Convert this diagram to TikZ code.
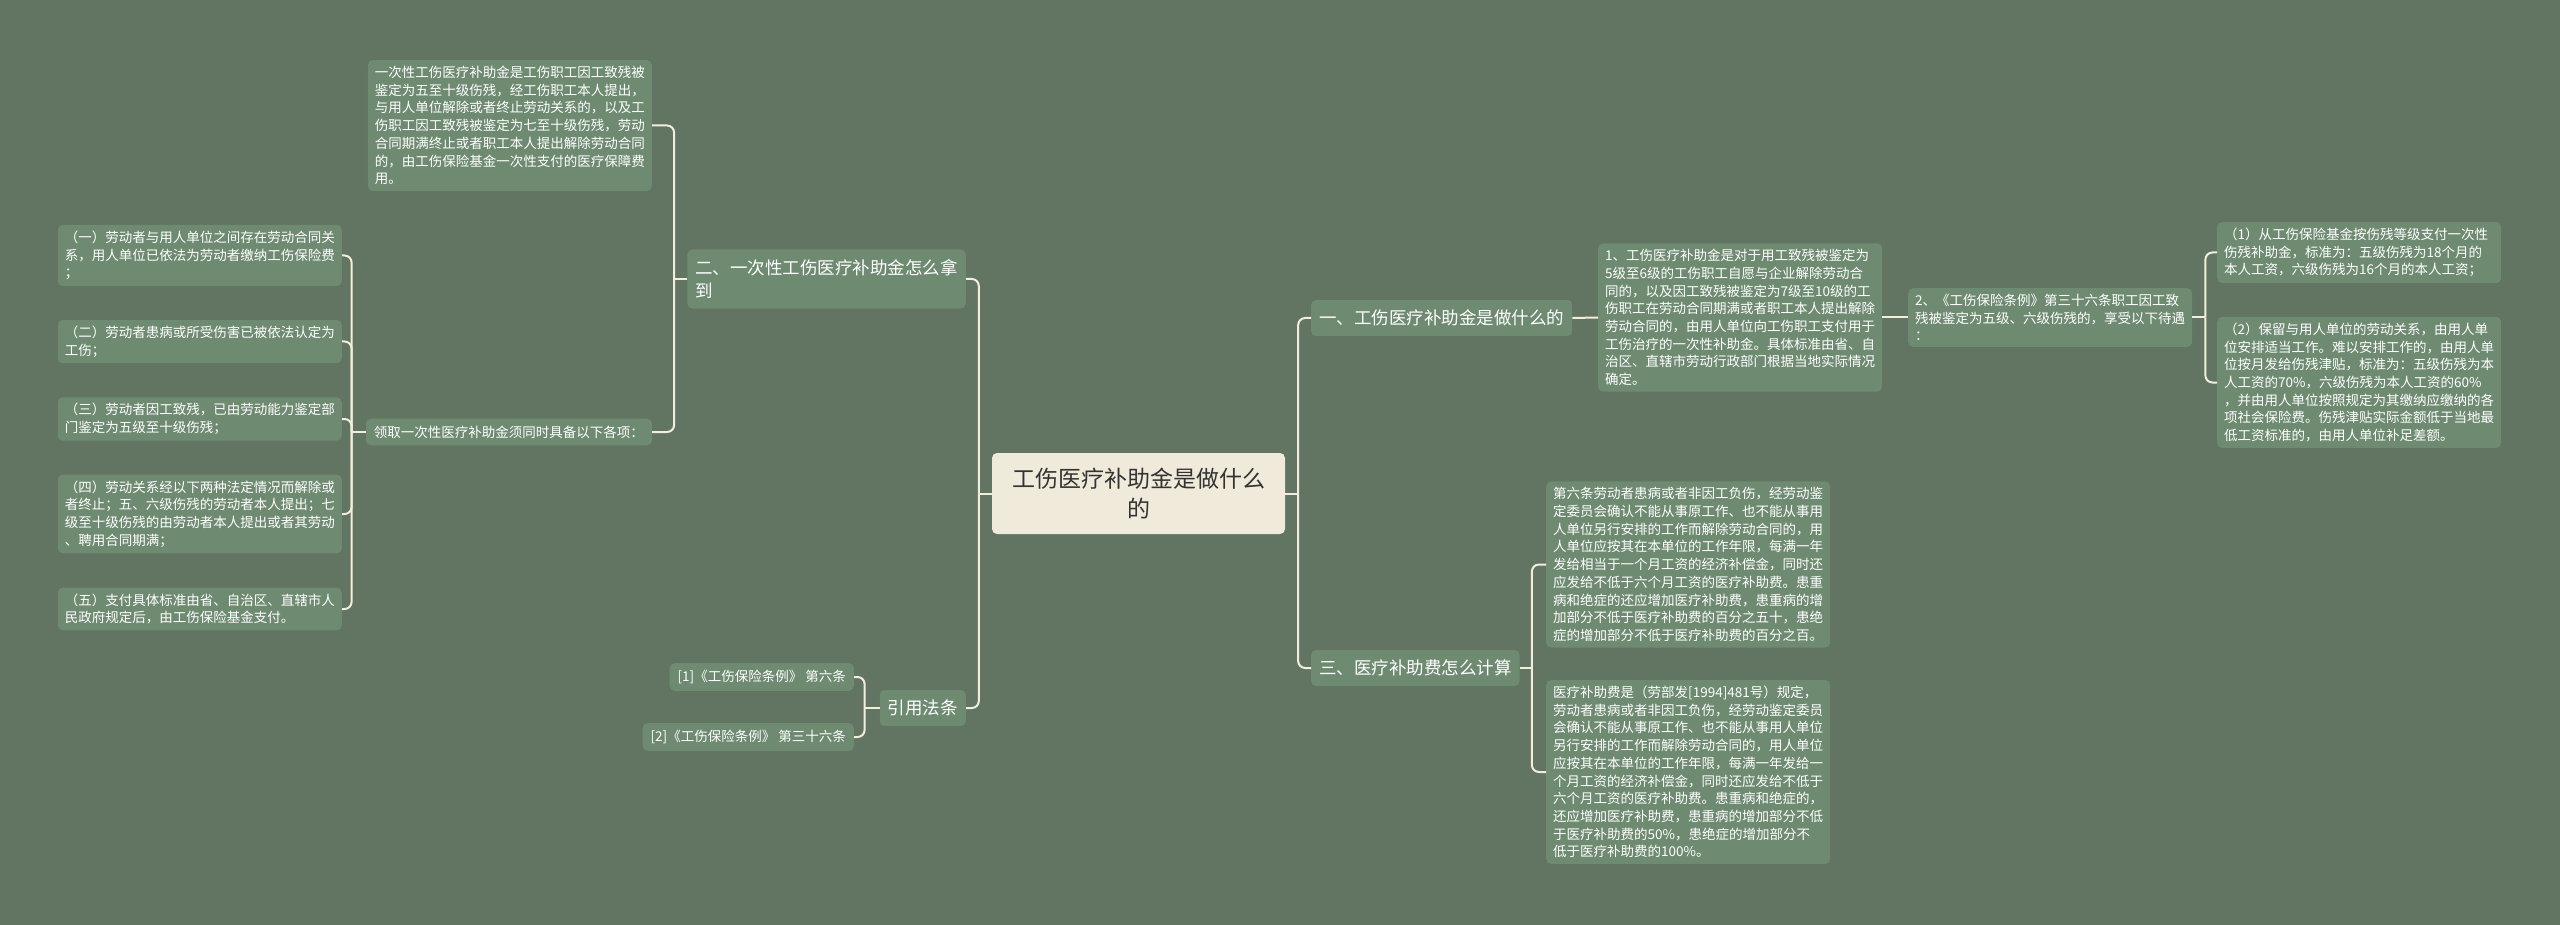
\documentclass[tikz,border=0pt]{standalone}
\usepackage{fontspec}
\setmainfont{Noto Sans CJK SC}
\definecolor{bgcol}{HTML}{627462}
\definecolor{boxcol}{HTML}{6E8B72}
\definecolor{hubcol}{HTML}{F0EADA}
\definecolor{linkcol}{HTML}{F3EEDB}
\begin{document}
\begin{tikzpicture}[x=1pt, y=-1pt,
  hub/.style={fill=hubcol, rounded corners=5pt, text=black!80, align=center,
    font=\fontsize{23}{30}\selectfont, inner xsep=20pt, inner ysep=15pt},
  branch/.style={fill=boxcol, rounded corners=5pt, text=white, align=left,
    font=\fontsize{17.5}{23}\selectfont, inner xsep=8pt, inner ysep=10pt},
  leaf/.style={fill=boxcol, rounded corners=5pt, text=white, align=left,
    font=\fontsize{13.5}{17.7}\selectfont, inner xsep=7pt, inner ysep=6pt, text width=270pt},
  tag/.style={fill=boxcol, rounded corners=5pt, text=white,
    font=\fontsize{13.5}{17.7}\selectfont, inner xsep=8pt, inner ysep=7pt},
  link/.style={draw=linkcol, line width=2pt, rounded corners=7pt}]
  \fill[bgcol] (0,0) rectangle (2560,925);
  \useasboundingbox (0,0) rectangle (2560,925);

  % centre and first level
  \node[hub] (ctr) at (1138.5,493.5) {工伤医疗补助金是做什么\\的};
  \node[branch, anchor=west] (n1) at (1311,318) {一、工伤医疗补助金是做什么的};
  \node[branch, anchor=west] (n3) at (1311,668) {三、医疗补助费怎么计算};
  \node[branch, anchor=east] (n2) at (966,279) {二、一次性工伤医疗补助金怎么拿\\到};
  \node[branch, anchor=east] (law) at (966,708) {引用法条};

  % branch one
  \node[leaf, anchor=west] (d1) at (1598,317.5) {1、工伤医疗补助金是对于用工致残被鉴定为\\5级至6级的工伤职工自愿与企业解除劳动合\\同的，以及因工致残被鉴定为7级至10级的工\\伤职工在劳动合同期满或者职工本人提出解除\\劳动合同的，由用人单位向工伤职工支付用于\\工伤治疗的一次性补助金。具体标准由省、自\\治区、直辖市劳动行政部门根据当地实际情况\\确定。};
  \node[leaf, anchor=west] (d2) at (1908,317.5) {2、《工伤保险条例》第三十六条职工因工致\\残被鉴定为五级、六级伤残的，享受以下待遇\\：};
  \node[leaf, anchor=west] (e1) at (2217,252.5) {（1）从工伤保险基金按伤残等级支付一次性\\伤残补助金，标准为：五级伤残为18个月的\\本人工资，六级伤残为16个月的本人工资；};
  \node[leaf, anchor=west] (e2) at (2217,382.5) {（2）保留与用人单位的劳动关系，由用人单\\位安排适当工作。难以安排工作的，由用人单\\位按月发给伤残津贴，标准为：五级伤残为本\\人工资的70\%，六级伤残为本人工资的60\%\\，并由用人单位按照规定为其缴纳应缴纳的各\\项社会保险费。伤残津贴实际金额低于当地最\\低工资标准的，由用人单位补足差额。};

  % branch three
  \node[leaf, anchor=west] (f1) at (1546,564.5) {第六条劳动者患病或者非因工负伤，经劳动鉴\\定委员会确认不能从事原工作、也不能从事用\\人单位另行安排的工作而解除劳动合同的，用\\人单位应按其在本单位的工作年限，每满一年\\发给相当于一个月工资的经济补偿金，同时还\\应发给不低于六个月工资的医疗补助费。患重\\病和绝症的还应增加医疗补助费，患重病的增\\加部分不低于医疗补助费的百分之五十，患绝\\症的增加部分不低于医疗补助费的百分之百。};
  \node[leaf, anchor=west] (f2) at (1546,772) {医疗补助费是（劳部发[1994]481号）规定，\\劳动者患病或者非因工负伤，经劳动鉴定委员\\会确认不能从事原工作、也不能从事用人单位\\另行安排的工作而解除劳动合同的，用人单位\\应按其在本单位的工作年限，每满一年发给一\\个月工资的经济补偿金，同时还应发给不低于\\六个月工资的医疗补助费。患重病和绝症的，\\还应增加医疗补助费，患重病的增加部分不低\\于医疗补助费的50\%，患绝症的增加部分不\\低于医疗补助费的100\%。};

  % branch two
  \node[leaf, anchor=east] (t0) at (652,125.5) {一次性工伤医疗补助金是工伤职工因工致残被\\鉴定为五至十级伤残，经工伤职工本人提出，\\与用人单位解除或者终止劳动关系的，以及工\\伤职工因工致残被鉴定为七至十级伤残，劳动\\合同期满终止或者职工本人提出解除劳动合同\\的，由工伤保险基金一次性支付的医疗保障费\\用。};
  \node[tag, anchor=east] (req) at (652,432) {领取一次性医疗补助金须同时具备以下各项：};
  \node[leaf, anchor=east] (c1) at (342,255.5) {（一）劳动者与用人单位之间存在劳动合同关\\系，用人单位已依法为劳动者缴纳工伤保险费\\；};
  \node[leaf, anchor=east] (c2) at (342,341.5) {（二）劳动者患病或所受伤害已被依法认定为\\工伤；};
  \node[leaf, anchor=east] (c3) at (342,419) {（三）劳动者因工致残，已由劳动能力鉴定部\\门鉴定为五级至十级伤残；};
  \node[leaf, anchor=east] (c4) at (342,514) {（四）劳动关系经以下两种法定情况而解除或\\者终止；五、六级伤残的劳动者本人提出；七\\级至十级伤残的由劳动者本人提出或者其劳动\\、聘用合同期满；};
  \node[leaf, anchor=east] (c5) at (342,609) {（五）支付具体标准由省、自治区、直辖市人\\民政府规定后，由工伤保险基金支付。};

  % references
  \node[tag, anchor=east] (r1) at (854,677) {[1]《工伤保险条例》 第六条};
  \node[tag, anchor=east] (r2) at (854,737) {[2]《工伤保险条例》 第三十六条};

  % connectors
  \draw[link] (ctr.east) -- ++(13,0) coordinate (jr);
  \draw[link] (jr) |- (n1.west);
  \draw[link] (jr) |- (n3.west);
  \draw[link] (ctr.west) -- ++(-13,0) coordinate (jl);
  \draw[link] (jl) |- (n2.east);
  \draw[link] (jl) |- (law.east);
  \draw[link] (n1.east) -- (d1.west);
  \draw[link] (d1.east) -- (d2.west);
  \draw[link] (d2.east) -- ++(13,0) coordinate (jd);
  \draw[link] (jd) |- (e1.west);
  \draw[link] (jd) |- (e2.west);
  \draw[link] (n3.east) -- ++(12,0) coordinate (jf);
  \draw[link] (jf) |- (f1.west);
  \draw[link] (jf) |- (f2.west);
  \draw[link] (n2.west) -- ++(-13,0) coordinate (jn);
  \draw[link] (jn) |- (t0.east);
  \draw[link] (jn) |- (req.east);
  \draw[link] (req.west) -- ++(-14,0) coordinate (jq);
  \foreach \c in {c1,c2,c3,c4,c5}
    \draw[link] (jq) |- (\c.east);
  \draw[link] (law.west) -- ++(-15,0) coordinate (jlaw);
  \draw[link] (jlaw) |- (r1.east);
  \draw[link] (jlaw) |- (r2.east);
\end{tikzpicture}
\end{document}
